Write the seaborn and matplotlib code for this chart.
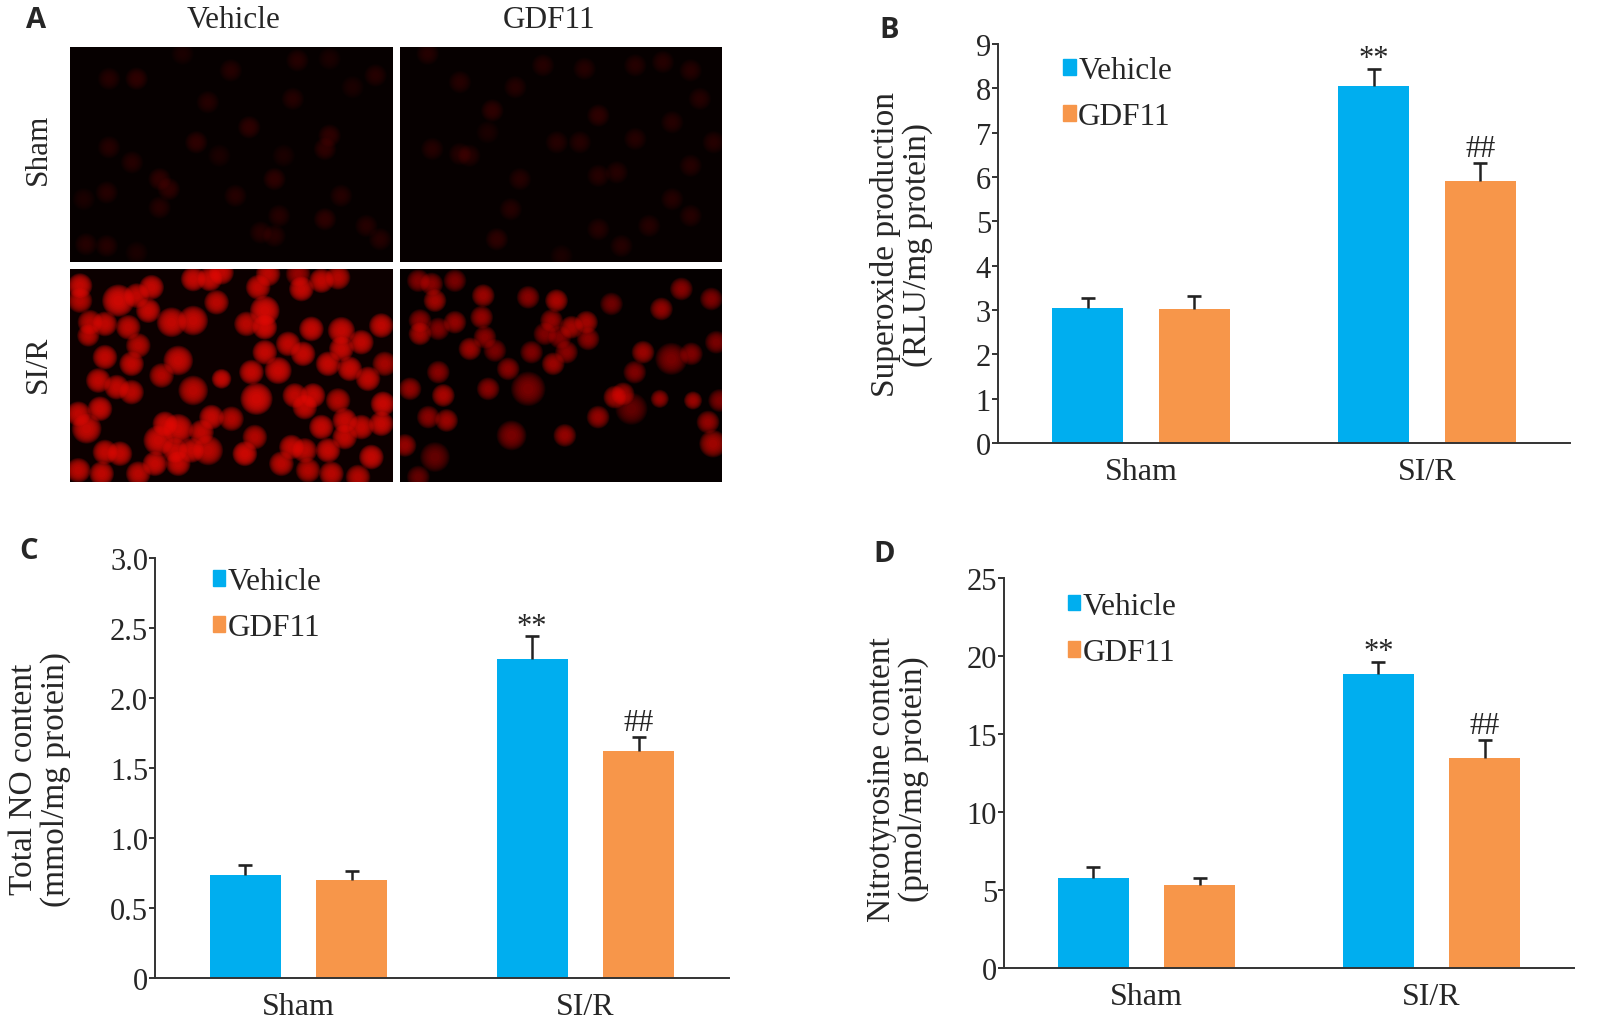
import numpy as np
import pandas as pd
import seaborn as sns
import matplotlib.pyplot as plt
from matplotlib.patches import Patch

# ---- data ----
groups = ['Sham', 'SI/R']
treatments = ['Vehicle', 'GDF11']

superoxide_vehicle = [3.04, 8.05]
superoxide_gdf11 = [3.02, 5.90]
superoxide_err_vehicle = [0.24, 0.39]
superoxide_err_gdf11 = [0.29, 0.42]

no_vehicle = [0.735, 2.28]
no_gdf11 = [0.70, 1.62]
no_err_vehicle = [0.07, 0.16]
no_err_gdf11 = [0.065, 0.10]

nitro_vehicle = [5.75, 18.85]
nitro_gdf11 = [5.30, 13.45]
nitro_err_vehicle = [0.70, 0.75]
nitro_err_gdf11 = [0.50, 1.15]

sig_vehicle = ['', '**']
sig_gdf11 = ['', '##']

# fluorescence images: cell centres (image pixel frame), brightness, size factor
sham_veh_x = [240, 300, 400, 505, 650, 720, 820, 770, 640, 455, 545, 430, 240, 290, 350, 370, 235, 185, 350,
              515, 600, 720, 710, 745, 710, 610, 570, 600, 830, 800, 190, 235, 300, 480, 620]
sham_veh_y = [240, 240, 165, 215, 185, 180, 230, 265, 300, 310, 385, 430, 445, 490, 540, 570, 580, 600, 625,
              590, 540, 410, 450, 590, 660, 650, 700, 710, 720, 680, 735, 740, 760, 470, 470]
sham_veh_b = [0.22, 0.25, 0.18, 0.2, 0.2, 0.18, 0.2, 0.18, 0.22, 0.2, 0.25, 0.25, 0.22, 0.2, 0.25, 0.25, 0.2, 0.18, 0.2,
              0.2, 0.25, 0.28, 0.25, 0.22, 0.25, 0.22, 0.2, 0.22, 0.22, 0.2, 0.2, 0.2, 0.18, 0.15, 0.18]

sham_gdf_x = [930, 1000, 1070, 1120, 1180, 1270, 1300, 1380, 1440, 1500, 1520, 940, 1000, 1020, 1060, 1130, 1210,
              1260, 1300, 1340, 1380, 1460, 1500, 1460, 1500, 1110, 1080, 1300, 1350, 1410, 1220, 1550]
sham_gdf_y = [165, 250, 335, 265, 200, 210, 350, 200, 190, 215, 300, 450, 465, 470, 400, 540, 430, 430, 530, 520,
              420, 370, 500, 600, 650, 630, 720, 690, 740, 680, 770, 430]
sham_gdf_b = [0.2, 0.22, 0.25, 0.2, 0.2, 0.22, 0.25, 0.2, 0.22, 0.22, 0.2, 0.22, 0.2, 0.2, 0.18, 0.2, 0.22, 0.22,
              0.22, 0.2, 0.2, 0.2, 0.22, 0.2, 0.2, 0.22, 0.25, 0.22, 0.2, 0.2, 0.18, 0.2]

sir_veh_x = [45, 160, 215, 260, 250, 385, 435, 470, 455, 320, 385, 120, 190, 75, 45, 70, 580, 600, 610, 710, 770,
             820, 545, 600, 740, 830, 950, 890, 830, 670, 600, 715, 220, 120, 200, 340, 290, 100, 155, 200, 470,
             560, 640, 790, 855, 910, 385, 575, 690, 745, 720, 820, 955, 40, 105, 65, 300, 340, 410, 440, 500,
             570, 280, 330, 380, 430, 120, 165, 270, 340, 220, 110, 40, 540, 680, 720, 790, 770, 840, 890, 950,
             840, 920, 650, 730, 800, 880, 960, 700]
sir_veh_y = [65, 110, 95, 70, 140, 45, 45, 25, 115, 175, 170, 180, 190, 175, 110, 215, 70, 140, 30, 75, 50, 40,
             180, 190, 195, 200, 185, 235, 255, 240, 265, 270, 245, 280, 300, 290, 335, 350, 370, 385, 345, 325,
             320, 300, 315, 345, 380, 405, 395, 395, 430, 410, 420, 450, 435, 495, 480, 495, 505, 460, 465, 520,
             530, 560, 560, 560, 565, 570, 600, 600, 630, 630, 620, 570, 550, 560, 560, 490, 470, 490, 480, 520,
             580, 600, 620, 630, 640, 300, 30]
sir_veh_b = [0.85, 1.0, 0.8, 0.85, 0.85, 0.85, 0.85, 0.8, 0.75, 0.85, 0.85, 0.8, 0.75, 0.7, 0.7, 0.7, 0.8, 1.0, 0.75,
             0.85, 0.8, 0.7, 0.75, 0.95, 0.85, 0.85, 0.8, 0.8, 0.85, 0.8, 0.85, 0.85, 0.7, 0.8, 0.8, 0.85, 0.7,
             0.8, 0.8, 0.75, 0.85, 0.85, 0.9, 0.85, 0.85, 0.8, 0.75, 1.0, 0.8, 0.85, 0.8, 0.7, 0.9, 0.8, 0.85,
             0.85, 0.85, 0.9, 0.8, 0.85, 0.7, 0.7, 0.9, 0.85, 0.85, 0.75, 0.8, 0.8, 0.85, 0.8, 0.75, 0.8, 0.75,
             0.95, 0.8, 0.75, 0.85, 0.85, 0.85, 0.8, 0.85, 0.8, 0.85, 0.75, 0.7, 0.75, 0.7, 0.6, 0.5]
sir_veh_s = [1.0, 1.3, 1.0, 1.0, 1.0, 1.0, 1.0, 1.0, 1.0, 1.2, 1.2, 1.0, 1.0, 1.0, 1.0, 0.9, 1.0, 1.2, 1.0, 1.0,
             1.0, 1.0, 1.0, 1.0, 1.0, 1.1, 1.0, 1.0, 1.0, 1.0, 1.0, 1.0, 1.0, 1.0, 1.0, 1.2, 1.0, 1.0, 1.0, 1.0,
             0.8, 1.0, 1.1, 1.0, 1.0, 1.0, 1.2, 1.3, 1.0, 1.0, 1.0, 1.0, 1.0, 1.0, 1.0, 1.2, 1.0, 1.2, 1.0, 1.0,
             1.0, 1.0, 1.2, 1.0, 1.0, 1.2, 1.0, 1.0, 1.0, 1.0, 1.0, 1.0, 1.0, 1.0, 1.0, 1.0, 1.0, 1.0, 1.0, 1.0,
             1.0, 1.0, 1.0, 1.0, 1.0, 1.0, 1.0, 1.0, 1.0]

sir_gdf_x = [60, 100, 110, 170, 255, 250, 170, 65, 65, 120, 260, 215, 290, 330, 390, 475, 460, 520, 565, 440, 485,
             570, 505, 400, 465, 640, 790, 850, 940, 735, 820, 880, 955, 710, 120, 35, 135, 270, 390, 650, 675,
             700, 600, 785, 885, 965, 90, 145, 340, 500, 930, 945, 20, 110, 60]
sir_gdf_y = [50, 60, 110, 50, 95, 160, 175, 170, 210, 195, 220, 255, 260, 315, 100, 110, 170, 190, 175, 210, 220,
             225, 265, 265, 300, 120, 135, 75, 105, 265, 285, 270, 235, 325, 325, 375, 395, 375, 375, 400, 390,
             435, 460, 405, 410, 410, 460, 470, 515, 515, 475, 540, 545, 580, 640]
sir_gdf_b = [0.5, 0.55, 0.7, 0.45, 0.65, 0.6, 0.6, 0.55, 0.7, 0.5, 0.55, 0.65, 0.45, 0.55, 0.55, 0.75, 0.6, 0.7,
             0.7, 0.5, 0.5, 0.55, 0.55, 0.5, 0.65, 0.4, 0.6, 0.55, 0.5, 0.65, 0.45, 0.5, 0.45, 0.5, 0.55, 0.6,
             0.75, 0.55, 0.45, 0.7, 0.65, 0.35, 0.6, 0.6, 0.65, 0.45, 0.55, 0.65, 0.45, 0.6, 0.6, 0.7, 0.6,
             0.35, 0.35]
sir_gdf_s = [1.0, 1.0, 1.0, 1.0, 1.0, 1.0, 1.0, 1.0, 1.0, 1.0, 1.0, 1.0, 1.0, 1.0, 1.0, 1.0, 1.0, 1.0, 1.0, 1.0,
             1.0, 1.0, 1.0, 1.0, 1.0, 1.0, 1.0, 1.0, 1.0, 1.0, 1.4, 1.0, 1.0, 1.0, 1.0, 1.0, 1.0, 1.0, 1.5, 1.0,
             1.0, 1.4, 1.0, 0.8, 0.8, 1.0, 1.0, 1.0, 1.3, 1.0, 1.0, 1.2, 1.0, 1.3, 1.0]

BLUE = '#00aeef'
ORANGE = '#f7964a'
W, H = 1609, 1020

sns.set_theme(style='white')
plt.rcParams['font.family'] = ['Liberation Serif', 'DejaVu Serif']
plt.rcParams['axes.edgecolor'] = '#333333'

fig = plt.figure(figsize=(W / 100, H / 100), dpi=100)


def px_axes(x0, y0, x1, y1):
    return fig.add_axes([x0 / W, 1 - y1 / H, (x1 - x0) / W, (y1 - y0) / H])


# ---- panel A: fluorescence images ----
def cell_image(box, xlim, ylim, xs, ys, bs, ss=None, base=120, gain=1.0, bg='#0c0000'):
    ax = px_axes(*box)
    ax.set_facecolor(bg)
    xs = np.array(xs)
    ys = np.array(ys)
    bs = np.array(bs) * gain
    ss = np.ones(len(xs)) if ss is None else np.array(ss)
    # soft blobs: stacked translucent discs
    for scale in np.linspace(2.3, 0.2, 10):
        ax.scatter(xs, ys, s=base * scale * ss ** 2, linewidths=0,
                   c=[(0.95, 0.05, 0.03, min(1, 0.17 * b)) for b in bs])
    ax.set_xlim(*xlim)
    ax.set_ylim(*ylim)
    ax.set_xticks([])
    ax.set_yticks([])
    for s in ax.spines.values():
        s.set_visible(False)
    return ax


cell_image((70, 48, 393, 263), (155, 858), (788, 145), sham_veh_x, sham_veh_y, sham_veh_b,
           base=120, gain=0.42, bg='#060000')
cell_image((400, 48, 722, 263), (870, 1568), (788, 145), sham_gdf_x, sham_gdf_y, sham_gdf_b,
           base=120, gain=0.42, bg='#060000')
cell_image((70, 270, 393, 483), (15, 985), (655, 15), sir_veh_x, sir_veh_y, sir_veh_b, sir_veh_s, base=140)
cell_image((400, 270, 722, 483), (5, 972), (655, 15), sir_gdf_x, sir_gdf_y, sir_gdf_b, sir_gdf_s,
           base=120, gain=0.85, bg='#050000')

fig.text(234 / W, 1 - 20 / H, treatments[0], ha='center', va='center', fontsize=22.5)
fig.text(549 / W, 1 - 20 / H, treatments[1], ha='center', va='center', fontsize=22.5)
fig.text(38 / W, 1 - 149 / H, groups[0], ha='center', va='center', rotation=90, fontsize=22.5)
fig.text(38 / W, 1 - 364 / H, groups[1], ha='center', va='center', rotation=90, fontsize=22.5)


# ---- bar panels ----
def bar_panel(box, veh, gdf, err_v, err_g, ymax, yticks, ylabels, ylabel, label_x, label_y, leg_xy):
    ax = px_axes(*box)
    df = pd.DataFrame({
        'group': groups * 2,
        'treatment': [treatments[0]] * 2 + [treatments[1]] * 2,
        'value': veh + gdf,
    })
    sns.barplot(data=df, x='group', y='value', hue='treatment', order=groups, hue_order=treatments,
                palette=[BLUE, ORANGE], saturation=1, width=0.744, gap=0.336,
                errorbar=None, legend=False, linewidth=0, ax=ax)
    bars = list(ax.containers)
    vals = [veh, gdf]
    errs = [err_v, err_g]
    sigs = [sig_vehicle, sig_gdf11]
    for i, cont in enumerate(bars):
        for j, bar in enumerate(cont):
            xc = bar.get_x() + bar.get_width() / 2
            top = vals[i][j] + errs[i][j]
            # upper error bar only: stem + cap
            ax.vlines(xc, vals[i][j], top, color='#222222', linewidth=1.8)
            ax.plot(xc, top, marker='_', markersize=10, mew=1.9, color='#222222')
            if sigs[i][j]:
                off = 2 if sigs[i][j] == '**' else 5
                ax.annotate(sigs[i][j], (xc, top), xytext=(0, off),
                            textcoords='offset points', ha='center', va='baseline', fontsize=22)
    ax.set_xlim(-0.5, 1.5)
    ax.set_ylim(0, ymax)
    ax.set_yticks(yticks, labels=ylabels, fontsize=22)
    ax.set_xticks([-0.5, 0.5, 1.5], labels=['', '', ''])
    ax.set_xticks([0, 1], labels=groups, minor=True, fontsize=23)
    ax.tick_params(axis='x', which='minor', length=0, pad=10)
    ax.tick_params(axis='x', which='major', length=4.5, width=1.4, direction='out', color='#333333')
    ax.tick_params(axis='y', length=4, width=1.4, pad=1, direction='out', color='#333333', left=True)
    ax.set_xlabel('')
    ax.set_ylabel(ylabel, fontsize=24, linespacing=1.05)
    ax.yaxis.set_label_coords(label_x, label_y)
    for s in ['top', 'right']:
        ax.spines[s].set_visible(False)
    for s in ['left', 'bottom']:
        ax.spines[s].set_linewidth(1.4)
    handles = [Patch(color=BLUE, label=treatments[0]), Patch(color=ORANGE, label=treatments[1])]
    ax.legend(handles=handles, loc='upper left', bbox_to_anchor=leg_xy, frameon=False, fontsize=22.5,
              handlelength=0.4, handleheight=0.4, handletextpad=0.08, labelspacing=0.55,
              borderpad=0, borderaxespad=0)
    return ax


bar_panel((998, 45, 1570, 444), superoxide_vehicle, superoxide_gdf11, superoxide_err_vehicle,
          superoxide_err_gdf11, 9, list(range(10)), [str(v) for v in range(10)],
          'Superoxide production\n(RLU/mg protein)', -0.114, 0.5, (0.114, 0.97))

bar_panel((155, 559, 729, 979), no_vehicle, no_gdf11, no_err_vehicle, no_err_gdf11, 3.0,
          [0, 0.5, 1.0, 1.5, 2.0, 2.5, 3.0], ['0', '0.5', '1.0', '1.5', '2.0', '2.5', '3.0'],
          'Total NO content\n(mmol/mg protein)', -0.147, 0.476, (0.101, 0.978))

bar_panel((1004, 579, 1574, 969), nitro_vehicle, nitro_gdf11, nitro_err_vehicle, nitro_err_gdf11, 25,
          [0, 5, 10, 15, 20, 25], ['0', '5', '10', '15', '20', '25'],
          'Nitrotyrosine content\n(pmol/mg protein)', -0.132, 0.487, (0.112, 0.965))

# panel letters
for letter, (lx, ly) in zip('ABCD', [(36, 21), (889, 30), (29, 552), (884, 555)]):
    fig.text(lx / W, 1 - ly / H, letter, ha='center', va='center', fontsize=21,
             fontweight='bold', family=['Open Sans', 'DejaVu Sans'])

fig.savefig('out.png', dpi=100, facecolor='white')
